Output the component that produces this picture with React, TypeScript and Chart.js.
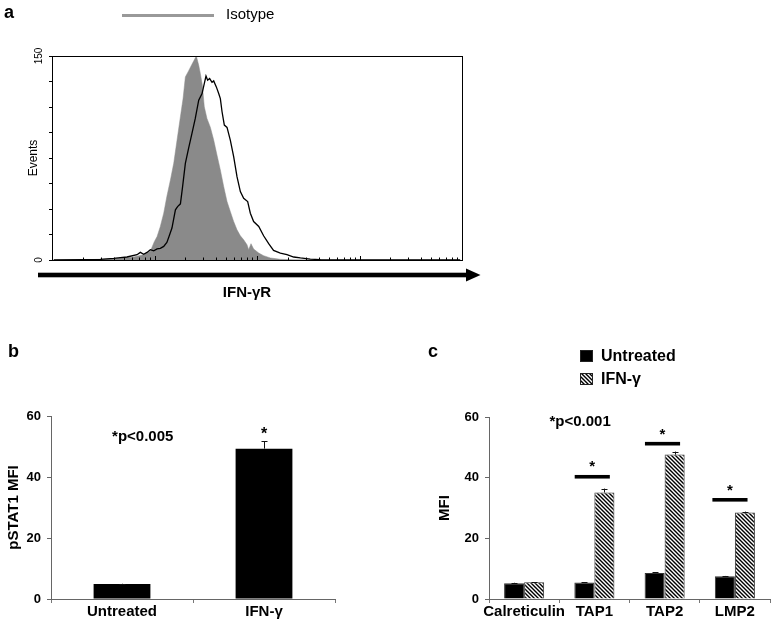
import React, { useEffect, useRef } from 'react';
import { Chart, registerables } from 'chart.js';

Chart.register(...registerables);

const FONT = '"Liberation Sans", Arial, Helvetica, sans-serif';

// ---------- Panel a: flow cytometry histogram ----------
const isoX = [1.04, 2.04, 2.96, 4.31, 6.26, 7.84, 9.11, 9.96, 10.6, 11.4, 12.3, 13.2, 14.3, 15.4, 16.6, 17.9, 19.0, 20.0, 21.5, 23.2, 25.6, 27.0, 28.0, 29.3, 30.6, 32.5, 35.1, 37.8, 40.7, 43.9, 47.3, 51.0, 54.9, 59.2, 63.8, 68.8, 74.1, 79.9, 82.9, 87.4, 92.7, 104, 116, 135, 169, 228, 385, 9600];
const isoY = [0, 0.2, 0.5, 1.0, 2.2, 3.9, 6.4, 13.5, 17.3, 24.7, 34.4, 46.7, 58.9, 71.1, 88.2, 105.3, 118.7, 134.6, 139.0, 143.9, 150, 143.2, 137.1, 128.5, 112.6, 104.1, 97.5, 88.2, 77.2, 66.2, 54.0, 43.0, 35.7, 28.3, 22.2, 17.8, 14.9, 11.2, 7.6, 12.0, 8.1, 5.1, 3.2, 1.5, 0.5, 0.2, 0, 0];
const ifnX = [1.04, 2.04, 2.96, 4.0, 5.39, 6.75, 7.28, 7.84, 8.45, 9.11, 9.82, 10.6, 11.4, 12.3, 13.2, 13.8, 14.8, 16.0, 16.8, 17.9, 18.8, 20.0, 21.5, 23.2, 25.0, 27.0, 29.1, 30.6, 31.8, 33.0, 34.5, 36.4, 37.8, 40.1, 42.3, 43.9, 45.6, 48.0, 51.0, 54.9, 59.2, 63.8, 68.8, 74.1, 81.1, 86.1, 92.7, 104, 116, 130, 145, 169, 196, 228, 265, 331, 415, 560, 9600];
const ifnY = [0, 0.2, 0.5, 1.2, 2.2, 3.9, 5.6, 4.2, 5.6, 7.6, 6.8, 8.1, 8.6, 10.0, 12.9, 16.9, 23.5, 36.9, 39.3, 41.3, 54.0, 71.1, 82.1, 93.1, 104.1, 117.5, 122.4, 129.7, 135.3, 132.2, 133.4, 130.7, 131.7, 127.3, 122.4, 118.7, 109.0, 99.2, 97.5, 88.2, 76.0, 61.3, 50.3, 45.4, 43.0, 34.4, 28.3, 24.7, 17.8, 12.0, 7.1, 5.1, 3.9, 2.2, 1.5, 0.7, 0.2, 0, 0];
const histYTicks = [0, 18.75, 37.5, 56.25, 75, 93.75, 112.5, 131.25, 150];
const histYLabelled = [0, 150];
const histDecades = [1, 10, 100, 1000];

// ---------- Panel b ----------
const bCategories = ['Untreated', 'IFN-γ'];
const bValues = [4.9, 49.3];
const bErrors = [0.1, 2.4];
const bNote = '*p<0.005';
const bNoteX = 0.146;
const bNoteY = 53.2;
const bStarY = [null, 55.3];

// ---------- Panel c ----------
const cCategories = ['Calreticulin', 'TAP1', 'TAP2', 'LMP2'];
const cSeriesNames = ['Untreated', 'IFN-γ'];
const cUntreated = [5.2, 5.4, 8.6, 7.5];
const cUntreatedErr = [0.15, 0.15, 0.3, 0.1];
const cIfn = [5.5, 35.1, 47.6, 28.5];
const cIfnErr = [0.1, 1.3, 1.0, 0.3];
const cNote = '*p<0.001';
const cNoteX = 0.797;
const cNoteY = 58.4;
const cSigX = [0.97, 1.97, 2.93];
const cSigHalf = 0.25;
const cSigY = [40.3, 51.2, 32.7];
const cStarY = [44.8, 55.4, 36.8];

function makeHatch(): CanvasPattern | string {
  const c = document.createElement('canvas');
  const s = 4;
  c.width = s;
  c.height = s;
  const g = c.getContext('2d');
  if (!g) return '#888';
  g.fillStyle = '#fff';
  g.fillRect(0, 0, s, s);
  g.strokeStyle = '#000';
  g.lineWidth = 1.4;
  g.beginPath();
  g.moveTo(-1, -1); g.lineTo(s + 1, s + 1);
  g.moveTo(-1, s - 1); g.lineTo(1, s + 1);
  g.moveTo(s - 1, -1); g.lineTo(s + 1, 1);
  g.stroke();
  return g.createPattern(c, 'repeat') || '#888';
}

function errorBars(errs: number[][]) {
  return {
    id: 'errbars',
    afterDatasetsDraw(chart: any) {
      const ctx = chart.ctx;
      const ys = chart.scales.y;
      chart.data.datasets.forEach((ds: any, di: number) => {
        const meta = chart.getDatasetMeta(di);
        meta.data.forEach((bar: any, i: number) => {
          const v = ds.data[i] as number;
          const e = errs[di][i];
          const x = Math.round(bar.x) + 0.5;
          const yTop = ys.getPixelForValue(v + e);
          const yBar = ys.getPixelForValue(v);
          ctx.save();
          ctx.strokeStyle = '#111';
          ctx.lineWidth = 1;
          ctx.beginPath();
          ctx.moveTo(x, yBar);
          ctx.lineTo(x, yTop);
          ctx.moveTo(x - 3, Math.round(yTop) + 0.5);
          ctx.lineTo(x + 3, Math.round(yTop) + 0.5);
          ctx.stroke();
          ctx.restore();
        });
      });
    },
  };
}

const boldFont = (size: number) => ({ family: FONT, size, weight: 'bold' as const });

function HistogramA() {
  const ref = useRef<HTMLCanvasElement>(null);
  useEffect(() => {
    if (!ref.current) return;
    const logTicks: number[] = [];
    histDecades.forEach((d) => {
      for (let k = 1; k <= 9; k++) logTicks.push(d * k);
    });
    logTicks.push(10000);
    const decor = {
      id: 'decorA',
      afterDatasetsDraw(chart: any) {
        const { ctx, chartArea: a } = chart;
        const xs = chart.scales.x;
        ctx.save();
        ctx.strokeStyle = '#000';
        ctx.lineWidth = 1;
        ctx.strokeRect(Math.round(a.left) + 0.5, Math.round(a.top) + 0.5, Math.round(a.right - a.left), Math.round(a.bottom - a.top));
        ctx.beginPath();
        xs.ticks.forEach((t: any) => {
          const px = Math.round(xs.getPixelForValue(t.value)) + 0.5;
          const lg = Math.log10(t.value);
          const major = Math.abs(lg - Math.round(lg)) < 1e-9;
          ctx.moveTo(px, a.bottom);
          ctx.lineTo(px, a.bottom - (major ? 4 : 2.5));
        });
        ctx.stroke();
        // axis arrow
        const ay = a.bottom + 15;
        ctx.fillStyle = '#000';
        ctx.fillRect(a.left - 14, ay - 2.3, a.right - a.left + 18, 4.6);
        ctx.beginPath();
        ctx.moveTo(a.right + 4, ay - 6.5);
        ctx.lineTo(a.right + 18.5, ay);
        ctx.lineTo(a.right + 4, ay + 6.5);
        ctx.closePath();
        ctx.fill();
        ctx.font = `bold 15px ${FONT}`;
        ctx.textAlign = 'center';
        ctx.textBaseline = 'middle';
        ctx.fillText('IFN-γR', 247, a.bottom + 33);
        ctx.restore();
      },
    };
    const chart = new Chart(ref.current, {
      type: 'line',
      data: {
        datasets: [
          {
            label: 'IFN-γR',
            data: ifnX.map((x, i) => ({ x, y: ifnY[i] })),
            borderColor: '#000',
            borderWidth: 1.3,
            pointRadius: 0,
            fill: false,
            tension: 0,
          },
          {
            label: 'Isotype',
            data: isoX.map((x, i) => ({ x, y: isoY[i] })),
            borderColor: '#8a8a8a',
            backgroundColor: '#8a8a8a',
            borderWidth: 0.5,
            pointRadius: 0,
            fill: 'origin',
            tension: 0,
          },
        ],
      },
      options: {
        responsive: false,
        animation: false,
        events: [],
        layout: { padding: { top: 56, right: 38, left: 0, bottom: 0 } },
        plugins: { legend: { display: false }, tooltip: { enabled: false } },
        scales: {
          x: {
            type: 'logarithmic',
            min: 1,
            max: 10000,
            afterBuildTicks: (s: any) => { s.ticks = logTicks.map((v) => ({ value: v })); },
            ticks: { display: false },
            grid: { display: false },
            border: { display: false },
            afterFit: (s: any) => { s.height = 50; },
          },
          y: {
            type: 'linear',
            min: 0,
            max: 150,
            afterBuildTicks: (s: any) => { s.ticks = histYTicks.map((v) => ({ value: v })); },
            ticks: {
              callback: (v: any) => (histYLabelled.includes(Number(v)) ? String(v) : ''),
              minRotation: 90,
              maxRotation: 90,
              crossAlign: 'center',
              padding: 1,
              color: '#000',
              font: { family: FONT, size: 10 },
            },
            grid: { drawOnChartArea: false, tickLength: 3, color: '#000' },
            border: { display: false },
            title: {
              display: true,
              text: 'Events',
              color: '#000',
              font: { family: FONT, size: 12 },
              padding: { top: 26, bottom: 0 },
            },
            afterFit: (s: any) => { s.width = 52; },
          },
        },
      } as any,
      plugins: [decor],
    });
    return () => chart.destroy();
  }, []);
  return <canvas ref={ref} width={500} height={310} style={{ position: 'absolute', left: 0, top: 0, width: 500, height: 310 }} />;
}

function BarsB() {
  const ref = useRef<HTMLCanvasElement>(null);
  useEffect(() => {
    if (!ref.current) return;
    const notes = {
      id: 'notesB',
      afterDatasetsDraw(chart: any) {
        const { ctx } = chart;
        const xs = chart.scales.x;
        const ys = chart.scales.y;
        ctx.save();
        ctx.fillStyle = '#000';
        ctx.textAlign = 'center';
        ctx.textBaseline = 'middle';
        ctx.font = `bold 15px ${FONT}`;
        ctx.fillText(bNote, xs.getPixelForValue(bNoteX), ys.getPixelForValue(bNoteY));
        ctx.font = `bold 16px ${FONT}`;
        bStarY.forEach((sy, i) => {
          if (sy == null) return;
          ctx.fillText('*', xs.getPixelForValue(i), ys.getPixelForValue(sy) + 4);
        });
        ctx.restore();
      },
    };
    const chart = new Chart(ref.current, {
      type: 'bar',
      data: {
        labels: bCategories,
        datasets: [
          {
            label: 'pSTAT1 MFI',
            data: bValues,
            backgroundColor: '#000',
            borderColor: '#000',
            borderWidth: 0,
            categoryPercentage: 1,
            barPercentage: 0.4,
          },
        ],
      },
      options: {
        responsive: false,
        animation: false,
        events: [],
        layout: { padding: { top: 36, right: 15, left: 0, bottom: 0 } },
        plugins: { legend: { display: false }, tooltip: { enabled: false } },
        scales: {
          x: {
            grid: { offset: true, drawOnChartArea: false, tickLength: 4, color: '#777' },
            border: { color: '#666', width: 1 },
            ticks: { color: '#000', font: boldFont(15), padding: 0, maxRotation: 0, minRotation: 0, autoSkip: false },
            afterFit: (s: any) => { s.height = 24; },
          },
          y: {
            min: 0,
            max: 60,
            ticks: { stepSize: 20, color: '#000', font: boldFont(13), padding: 6 },
            grid: { drawOnChartArea: false, tickLength: 4, color: '#666' },
            border: { color: '#666', width: 1 },
            title: {
              display: true,
              text: 'pSTAT1 MFI',
              color: '#000',
              font: boldFont(15),
              padding: { top: 5, bottom: 0 },
            },
            afterFit: (s: any) => { s.width = 51; },
          },
        },
      } as any,
      plugins: [errorBars([bErrors]), notes],
    });
    return () => chart.destroy();
  }, []);
  return <canvas ref={ref} width={350} height={243} style={{ position: 'absolute', left: 0, top: 380, width: 350, height: 243 }} />;
}

function BarsC() {
  const ref = useRef<HTMLCanvasElement>(null);
  useEffect(() => {
    if (!ref.current) return;
    const hatch = makeHatch();
    const notes = {
      id: 'notesC',
      afterDatasetsDraw(chart: any) {
        const { ctx } = chart;
        const xs = chart.scales.x;
        const ys = chart.scales.y;
        ctx.save();
        ctx.fillStyle = '#000';
        ctx.textAlign = 'center';
        ctx.textBaseline = 'middle';
        ctx.font = `bold 15px ${FONT}`;
        ctx.fillText(cNote, xs.getPixelForValue(cNoteX), ys.getPixelForValue(cNoteY));
        ctx.font = `bold 15px ${FONT}`;
        cSigX.forEach((cx, i) => {
          const x1 = xs.getPixelForValue(cx - cSigHalf);
          const x2 = xs.getPixelForValue(cx + cSigHalf);
          const y = ys.getPixelForValue(cSigY[i]);
          ctx.fillRect(x1, y - 1.8, x2 - x1, 3.6);
          ctx.fillText('*', xs.getPixelForValue(cx), ys.getPixelForValue(cStarY[i]) + 3.5);
        });
        // legend
        const lx = 180;
        const rows = [
          { y: 16, fill: '#000' as any },
          { y: 39, fill: hatch as any },
        ];
        ctx.textAlign = 'left';
        ctx.font = `bold 16px ${FONT}`;
        rows.forEach((r, i) => {
          ctx.fillStyle = r.fill;
          ctx.fillRect(lx, r.y - 6, 13, 12);
          ctx.strokeStyle = '#222';
          ctx.lineWidth = 1;
          ctx.strokeRect(lx + 0.5, r.y - 5.5, 12, 11);
          ctx.fillStyle = '#000';
          ctx.fillText(cSeriesNames[i], lx + 21, r.y + 1);
        });
        ctx.restore();
      },
    };
    const chart = new Chart(ref.current, {
      type: 'bar',
      data: {
        labels: cCategories,
        datasets: [
          {
            label: cSeriesNames[0],
            data: cUntreated,
            backgroundColor: '#000',
            borderColor: '#333',
            borderWidth: 1,
            categoryPercentage: 0.57,
            barPercentage: 1,
          },
          {
            label: cSeriesNames[1],
            data: cIfn,
            backgroundColor: hatch as any,
            borderColor: '#333',
            borderWidth: 1,
            categoryPercentage: 0.57,
            barPercentage: 1,
          },
        ],
      },
      options: {
        responsive: false,
        animation: false,
        events: [],
        layout: { padding: { top: 77, right: 1, left: 0, bottom: 0 } },
        plugins: { legend: { display: false }, tooltip: { enabled: false } },
        scales: {
          x: {
            grid: { offset: true, drawOnChartArea: false, tickLength: 4, color: '#777' },
            border: { color: '#666', width: 1 },
            ticks: { color: '#000', font: boldFont(15), padding: 0, maxRotation: 0, minRotation: 0, autoSkip: false },
            afterFit: (s: any) => { s.height = 24; },
          },
          y: {
            min: 0,
            max: 60,
            ticks: { stepSize: 20, color: '#000', font: boldFont(13), padding: 6 },
            grid: { drawOnChartArea: false, tickLength: 4, color: '#666' },
            border: { color: '#666', width: 1 },
            title: {
              display: true,
              text: 'MFI',
              color: '#000',
              font: boldFont(15),
              padding: { top: 36, bottom: 0 },
            },
            afterFit: (s: any) => { s.width = 89; },
          },
        },
      } as any,
      plugins: [errorBars([cUntreatedErr, cIfnErr]), notes],
    });
    return () => chart.destroy();
  }, []);
  return <canvas ref={ref} width={371} height={283} style={{ position: 'absolute', left: 400, top: 340, width: 371, height: 283 }} />;
}

export default function App() {
  const letter: React.CSSProperties = {
    position: 'absolute',
    fontFamily: FONT,
    fontWeight: 'bold',
    fontSize: 18,
    lineHeight: '18px',
    color: '#000',
  };
  return (
    <div style={{ position: 'absolute', left: 0, top: 0, width: 771, height: 623, background: '#fff', overflow: 'hidden', fontFamily: FONT }}>
      <HistogramA />
      <BarsB />
      <BarsC />
      <div style={{ ...letter, left: 4, top: 3 }}>a</div>
      <div style={{ ...letter, left: 8, top: 342 }}>b</div>
      <div style={{ ...letter, left: 428, top: 342 }}>c</div>
      <div style={{ position: 'absolute', left: 122, top: 14, width: 92, height: 3, background: '#999' }} />
      <div style={{ position: 'absolute', left: 226, top: 6, fontFamily: FONT, fontSize: 15, lineHeight: '15px', color: '#000' }}>Isotype</div>
    </div>
  );
}
